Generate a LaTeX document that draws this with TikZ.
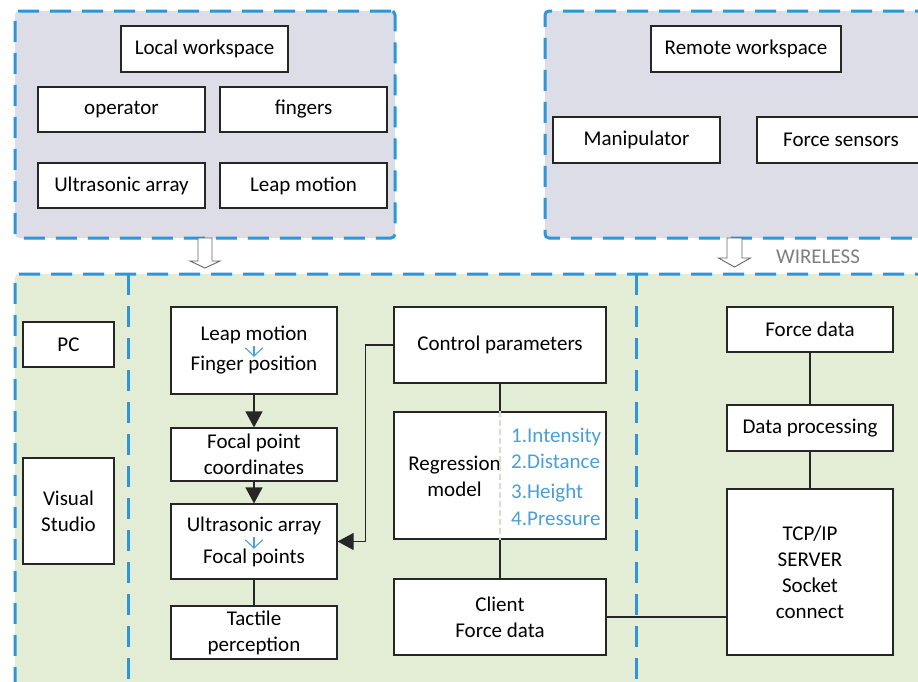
\documentclass[tikz,border=0pt]{standalone}
\usepackage{fontspec}
\setmainfont{Carlito}
\usetikzlibrary{arrows.meta}
\definecolor{dashblue}{RGB}{46,150,214}
\definecolor{graybg}{RGB}{221,221,232}
\definecolor{greenbg}{RGB}{227,236,212}
\definecolor{txtblue}{RGB}{74,158,217}
\definecolor{paleline}{RGB}{222,222,196}
\definecolor{wirelessgray}{RGB}{128,128,128}
\newcommand{\mkbox}[7][box]{\node[#1, minimum width={(#5-#3)*1pt}, minimum height={(#6-#4)*1pt}] (#2) at ({(#3+#5)/2},{(#4+#6)/2}) {#7};}
\begin{document}
\begin{tikzpicture}[x=1pt,y=-1pt,
  region/.style={draw=dashblue, line width=3pt, dash pattern=on 21pt off 11pt, rounded corners=4pt, inner sep=0pt},
  divider/.style={draw=dashblue, line width=3pt, dash pattern=on 21pt off 11pt},
  box/.style={draw=black!85, fill=white, line width=1.2pt, inner sep=0pt, align=center, text=black, font=\fontsize{21}{26}\selectfont},
  txt/.style={inner sep=0pt, align=center, text=black, font=\fontsize{21}{26}\selectfont},
  link/.style={draw=black!85, line width=1.2pt},
  arrowlink/.style={link, -{Triangle[length=16pt,width=17pt]}},
  bluestroke/.style={draw=txtblue, line width=1.1pt, line cap=round, line join=round},
  hollow/.style={draw=black!60, fill=white, line width=0.9pt},
]
\useasboundingbox (0,0) rectangle (918,681);
\clip (0,0) rectangle (918,681);
\fill[white] (0,0) rectangle (918,681);

% regions
\mkbox[region, fill=graybg]{localR}{15}{11}{395}{238}{}
\mkbox[region, fill=graybg]{remoteR}{545}{11}{940}{238}{}
\mkbox[region, fill=greenbg]{pcR}{15}{274}{940}{700}{}
\draw[divider] (128,274) -- (128,690);
\draw[divider] (636.5,274) -- (636.5,690);

% local workspace
\mkbox{lw}{121}{26}{288}{72}{Local workspace}
\mkbox{op}{38}{87}{205}{132}{operator}
\mkbox{fi}{220}{87}{387}{132}{fingers}
\mkbox{ua}{38}{163}{205}{208}{Ultrasonic array}
\mkbox{lmt}{220}{163}{387}{208}{Leap motion}

% remote workspace
\mkbox{rw}{651}{26}{841}{72}{Remote workspace}
\mkbox{man}{553}{117}{720}{163}{Manipulator}
\mkbox{fs}{757}{117}{925}{163}{Force sensors}

% hollow arrows
\coordinate (h1) at (205,238);
\coordinate (h2) at (734.5,238);
\draw[hollow] (h1) ++(-7,0) -- ++(0,23) -- ++(-8,0) -- ++(15,7) -- ++(15,-7) -- ++(-8,0) -- ++(0,-23) -- cycle;
\draw[hollow] (h2) ++(-7.5,0) -- ++(0,20) -- ++(-8.5,0) -- ++(16,9) -- ++(16,-9) -- ++(-8.5,0) -- ++(0,-20) -- cycle;
\node[txt, text=wirelessgray] (wl) at (818,257) {WIRELESS};

% PC column
\mkbox{pc}{23}{322}{114}{367}{PC}
\mkbox{vs}{23}{458}{114}{564}{Visual\\Studio}

% middle column
\mkbox{lm}{171}{307}{337}{394}{Leap motion\\[4pt]Finger position}
\mkbox{fpc}{171}{428}{337}{481}{Focal point\\coordinates}
\mkbox{usa}{171}{504}{337}{579}{Ultrasonic array\\[6pt]Focal points}
\mkbox{tac}{171}{606}{337}{659}{Tactile\\perception}
% small blue arrows inside the boxes
\draw[bluestroke] (lm.center) ++(0,-4) -- ++(0,9.5);
\draw[bluestroke] (lm.center) ++(-8.5,-2.5) -- ++(8.5,8) -- ++(8.5,-8);
\draw[bluestroke] (usa.center) ++(0,-4) -- ++(0,10.5);
\draw[bluestroke] (usa.center) ++(-8.5,-1.5) -- ++(8.5,8) -- ++(8.5,-8);

\mkbox{ctrl}{394}{307}{606}{383}{Control parameters}
\mkbox{reg}{394}{412}{606}{539}{}
\mkbox{client}{394}{579}{606}{655}{Client\\Force data}
\node[txt] (regtxt) at (454.5,476) {Regression\\model};
\node[txt, text=txtblue, align=left, anchor=west] (plist) at (511,477) {1.Intensity\\2.Distance\\[4pt]3.Height\\[1pt]4.Pressure};

% right column
\mkbox{fd}{727}{307}{893}{352}{Force data}
\mkbox{dp}{727}{405}{893}{451}{Data processing}
\mkbox{tcp}{727}{489}{893}{655}{TCP/IP\\SERVER\\Socket\\connect}

% connectors
\draw[arrowlink] (lm) -- (fpc);
\draw[arrowlink] (fpc) -- (usa);
\draw[link] (usa) -- (tac);
\draw[arrowlink] (ctrl.west) -- ++(-28,0) |- (usa.east);
\draw[link] (ctrl) -- (reg);
\draw[draw=paleline, line width=1.3pt, dash pattern=on 6pt off 3pt] (reg.north) -- (reg.south);
\draw[link] (reg) -- (client);
\draw[link] (client.east) -- (client.east -| tcp.west);
\draw[link] (fd) -- (dp);
\draw[link] (dp) -- (tcp);
\end{tikzpicture}
\end{document}
